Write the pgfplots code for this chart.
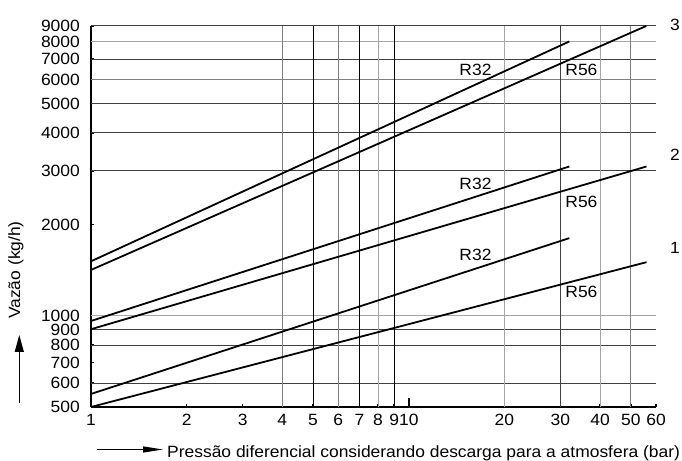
\documentclass[border=0pt]{standalone}
\usepackage{pgfplots}
\pgfplotsset{compat=1.18}
\usepackage{fontspec}
\setmainfont{Liberation Sans}[FakeStretch=1.07]
\usetikzlibrary{arrows.meta}
\definecolor{gdark}{gray}{0.25}
\definecolor{gmid}{gray}{0.5}
\definecolor{glight}{gray}{0.65}
\newcommand{\chartfont}{\fontsize{16.3bp}{19bp}\selectfont}
\begin{document}
\chartfont
\begin{tikzpicture}[font=\chartfont]
\begin{axis}[
  at={(0,0)}, anchor=south west,
  scale only axis, width=565bp, height=381bp,
  xmode=log, ymode=log,
  xmin=1, xmax=60, ymin=500, ymax=9000,
  axis x line*=bottom, axis y line*=left,
  axis line style={line width=2.5bp, -},
  xtick={1,2,3,4,5,6,7,8,9,10,20,30,40,50,60},
  xticklabels={1,2,3,4,5,6,7,8,9,10,20,30,40,50,60},
  ytick={500,600,700,800,900,1000,2000,3000,4000,5000,6000,7000,8000,9000},
  yticklabels={500,600,700,800,900,1000,2000,3000,4000,5000,6000,7000,8000,9000},
  minor xtick={}, minor ytick={},
  tick align=inside,
  major tick length=3bp,
  tick style={black, line width=1.5bp},
  ticklabel style={font=\chartfont},
  xticklabel style={inner sep=0pt, anchor=north, yshift=-7bp},
  yticklabel style={inner sep=0pt, anchor=east, xshift=-11bp, text height=11.5bp, text depth=0bp},
  clip=false,
]
% horizontal grid
\draw[glight, line width=0.9bp] (axis cs:1,8000) -- (axis cs:60,8000);
\draw[gdark, line width=0.9bp] (axis cs:1,7000) -- (axis cs:60,7000);
\draw[gmid, line width=0.9bp] (axis cs:1,6000) -- (axis cs:60,6000);
\draw[gdark, line width=0.9bp] (axis cs:1,5000) -- (axis cs:60,5000);
\draw[gdark, line width=0.9bp] (axis cs:1,4000) -- (axis cs:60,4000);
\draw[gdark, line width=0.9bp] (axis cs:1,3000) -- (axis cs:60,3000);
\draw[glight, line width=1bp] (axis cs:1,1000) -- (axis cs:60,1000);
\draw[gdark, line width=0.9bp] (axis cs:1,900) -- (axis cs:60,900);
\draw[gdark, line width=0.9bp] (axis cs:1,800) -- (axis cs:60,800);
\draw[gdark, line width=0.9bp] (axis cs:1,600) -- (axis cs:60,600);
\draw[gdark, line width=1bp] (axis cs:1,9000) -- (axis cs:60,9000);
% vertical grid
\draw[gmid, line width=0.9bp] (axis cs:4,500) -- (axis cs:4,9000);
\draw[black, line width=1.1bp] (axis cs:5,500) -- (axis cs:5,9000);
\draw[gmid, line width=0.9bp] (axis cs:6,500) -- (axis cs:6,9000);
\draw[black, line width=1.1bp] (axis cs:7,500) -- (axis cs:7,9000);
\draw[glight, line width=0.9bp] (axis cs:8,500) -- (axis cs:8,9000);
\draw[black, line width=1.1bp] (axis cs:9,500) -- (axis cs:9,9000);
\draw[glight, line width=0.9bp] (axis cs:20,500) -- (axis cs:20,9000);
\draw[gdark, line width=1.2bp] (axis cs:30,500) -- (axis cs:30,9000);
\draw[glight, line width=0.9bp] (axis cs:40,500) -- (axis cs:40,9000);
\draw[gmid, line width=0.9bp] (axis cs:50,500) -- (axis cs:50,9000);
% tick at 10
\draw[black, line width=2.5bp] (axis cs:10,500) -- (axis cs:10,535);
% data
\addplot[black, line width=1.8bp] coordinates {(1,1510) (32,8000)};
\addplot[black, line width=1.8bp] coordinates {(1,1414) (55.9,9000)};
\addplot[black, line width=1.8bp] coordinates {(1,960) (32,3100)};
\addplot[black, line width=1.8bp] coordinates {(1,902) (56,3100)};
\addplot[black, line width=1.8bp] coordinates {(1,552) (32,1800)};
\addplot[black, line width=1.8bp] coordinates {(1,500) (56,1500)};
% labels
\node[inner sep=0pt] at (rel axis cs:0.6805,0.8858) {R32};
\node[inner sep=0pt] at (rel axis cs:0.868,0.8858) {R56};
\node[inner sep=0pt] at (rel axis cs:1.0336,1.004) {3};
\node[inner sep=0pt] at (rel axis cs:0.6805,0.5866) {R32};
\node[inner sep=0pt] at (rel axis cs:0.868,0.5394) {R56};
\node[inner sep=0pt] at (rel axis cs:1.0336,0.6614) {2};
\node[inner sep=0pt] at (rel axis cs:0.6805,0.399) {R32};
\node[inner sep=0pt] at (rel axis cs:0.868,0.301) {R56};
\node[inner sep=0pt] at (rel axis cs:1.0336,0.4186) {1};
\end{axis}
% axis titles with arrows
\node[rotate=90, inner sep=0pt, font=\chartfont] at (-75bp,137bp) {Vazão (kg/h)};
\draw[line width=1.2bp, -{Triangle[length=17bp,width=9bp]}] (-71.7bp,4.3bp) -- (-71.7bp,72bp);
\draw[line width=1.1bp, -{Triangle[length=20bp,width=6bp]}] (6bp,-42.5bp) -- (72bp,-42.5bp);
\node[anchor=base west, inner sep=0pt, font=\chartfont] at (76bp,-50bp) {Pressão diferencial considerando descarga para a atmosfera (bar)};
\pgfresetboundingbox
\path (-91bp,-54bp) rectangle (591bp,407bp);
\end{tikzpicture}
\end{document}
